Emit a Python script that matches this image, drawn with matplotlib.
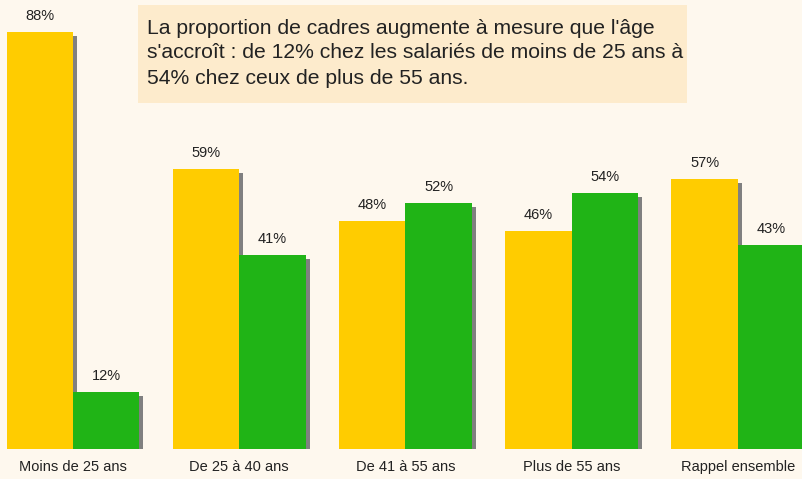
import matplotlib
matplotlib.use("Agg")
import matplotlib.pyplot as plt

categories = ["Moins de 25 ans", "De 25 à 40 ans", "De 41 à 55 ans", "Plus de 55 ans", "Rappel ensemble"]
non_cadres = [88, 59, 48, 46, 57]
cadres = [12, 41, 52, 54, 43]
note_lines = ["La proportion de cadres augmente à mesure que l'âge",
              "s'accroît : de 12% chez les salariés de moins de 25 ans à",
              "54% chez ceux de plus de 55 ans."]

BG = "#fef8ee"
YEL = "#ffcc00"
GRN = "#20b416"
SHD = "#808080"

plt.rcParams['font.family'] = ['Liberation Sans', 'DejaVu Sans']

fig = plt.figure(figsize=(8.02, 4.79), dpi=100, facecolor=BG)
ax = fig.add_axes([0, 30/479, 1, 449/479])
ax.set_facecolor(BG)

px_x = 1/166.2
px_y = 1/4.74
w = 0.4
x = list(range(len(categories)))
xl = [i - w/2 for i in x]
xr = [i + w/2 for i in x]

# shadows
ax.bar([v + 4*px_x for v in xl], [h - 4*px_y for h in non_cadres], width=w, color=SHD, zorder=1)
ax.bar([v + 4*px_x for v in xr], [h - 4*px_y for h in cadres], width=w, color=SHD, zorder=1)
# bars
ax.bar(xl, non_cadres, width=w, color=YEL, zorder=2)
ax.bar(xr, cadres, width=w, color=GRN, zorder=3)

for xi, h in zip(xl, non_cadres):
    ax.text(xi, h + 16*px_y, f"{h}%", ha='center', va='center', fontsize=10.5, color='#222222')
for xi, h in zip(xr, cadres):
    ax.text(xi, h + 16*px_y, f"{h}%", ha='center', va='center', fontsize=10.5, color='#222222')

ax.set_xlim(-73/166.2, (802-73)/166.2)
ax.set_ylim(0, 449/4.74)
ax.axis('off')

for i, c in enumerate(categories):
    fig.text((73 + i*166.2)/802, 1 - 467/479, c, ha='center', va='center', fontsize=10.5, color='#222222')

# note box
box = plt.Rectangle((138/802, 1 - 103/479), (687-138)/802, 98/479, transform=fig.transFigure,
                    facecolor="#fdebcc", edgecolor='none', zorder=5)
fig.patches.append(box)
for k, line in enumerate(note_lines):
    fig.text(147/802, 1 - (28 + 25*k)/479, line, ha='left', va='center', fontsize=15.2,
             color='#222222', zorder=6)

fig.savefig("out.png", dpi=100, facecolor=BG)
